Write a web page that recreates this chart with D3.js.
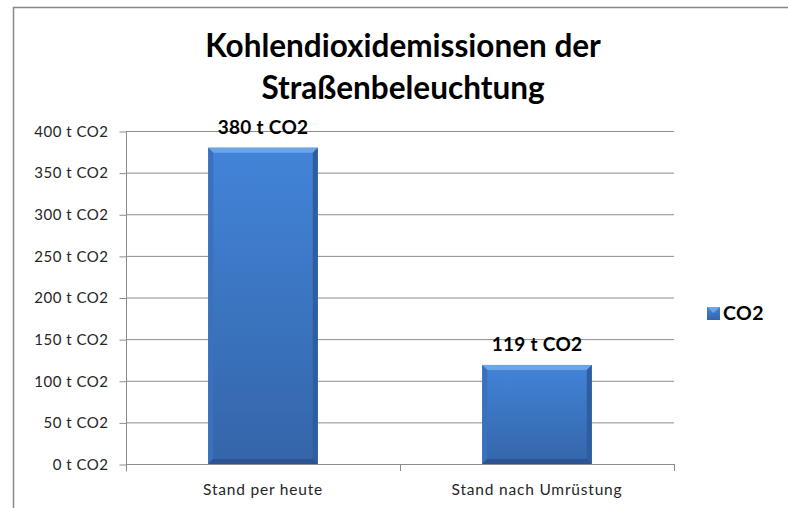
<!DOCTYPE html>
<html>
<head>
<meta charset="utf-8">
<script src="https://cdn.jsdelivr.net/npm/d3@7"></script>
<style>
  body { margin: 0; background: #fff; }
  svg { display: block; font-family: Lato, "Open Sans", sans-serif; }
</style>
</head>
<body>
<div id="chart"></div>
<script>
const categories = ["Stand per heute", "Stand nach Umrüstung"];
const values = [380, 119];
const yTicks = [0, 50, 100, 150, 200, 250, 300, 350, 400];
const seriesName = "CO2";
const titleLines = ["Kohlendioxidemissionen der", "Straßenbeleuchtung"];

const fullwidth = 788;
const fullheight = 508;
const plotLeft = 126, plotRight = 674, plotTop = 131, plotBottom = 464;

const svg = d3.select("#chart").append("svg")
  .attr("width", fullwidth)
  .attr("height", fullheight);

// chart frame
svg.append("rect")
  .attr("x", 13.5).attr("y", 7.5)
  .attr("width", 800).attr("height", 520)
  .attr("fill", "#fff")
  .attr("stroke", "#888")
  .attr("stroke-width", 1.5);

var defs = svg.append("defs");
var grad = defs.append("linearGradient")
  .attr("id", "barGrad")
  .attr("x1", "0%").attr("x2", "0%").attr("y1", "0%").attr("y2", "100%");
grad.append("stop").attr("offset", "0%").attr("stop-color", "#4284d8");
grad.append("stop").attr("offset", "100%").attr("stop-color", "#3465a9");

var y = d3.scaleLinear().domain([0, 400]).range([plotBottom, plotTop]);
var x = d3.scaleBand().domain(categories).range([plotLeft, plotRight])
  .paddingInner(0.6).paddingOuter(0.3);

// gridlines
svg.append("g")
  .selectAll("line")
  .data(yTicks.filter(d => d > 0))
  .enter().append("line")
  .attr("x1", plotLeft).attr("x2", plotRight)
  .attr("y1", d => y(d) + 0.5).attr("y2", d => y(d) + 0.5)
  .attr("stroke", "#8c8c8c").attr("stroke-width", 1);

// y axis
var yAxis = d3.axisLeft(y).tickValues(yTicks).tickSize(7).tickPadding(11)
  .tickFormat(d => d + " t CO2");
var gy = svg.append("g").attr("transform", "translate(" + (plotLeft + 0.5) + ",0.5)").call(yAxis);
gy.select(".domain").attr("stroke", "#8c8c8c").attr("d", "M0," + plotTop + "V" + (plotBottom + 7));
gy.selectAll(".tick line").attr("stroke", "#8c8c8c");
gy.selectAll(".tick text").attr("fill", "#262626").style("font-size", "15px")
  .style("letter-spacing", "0.5px")
  .style("font-family", "Lato, sans-serif");

// x axis
var gx = svg.append("g");
gx.append("line")
  .attr("x1", plotLeft).attr("x2", plotRight)
  .attr("y1", plotBottom + 0.5).attr("y2", plotBottom + 0.5)
  .attr("stroke", "#8c8c8c");
var bounds = [x.range()[0], (x(categories[0]) + x.bandwidth() / 2 + x(categories[1]) + x.bandwidth() / 2) / 2, x.range()[1]];
gx.selectAll("line.tk").data(bounds.slice(1)).enter().append("line")
  .attr("class", "tk")
  .attr("x1", d => Math.round(d) + 0.5).attr("x2", d => Math.round(d) + 0.5)
  .attr("y1", plotBottom).attr("y2", plotBottom + 7)
  .attr("stroke", "#8c8c8c");
gx.selectAll("text").data(categories).enter().append("text")
  .attr("x", d => x(d) + x.bandwidth() / 2)
  .attr("y", 495)
  .attr("text-anchor", "middle")
  .attr("fill", "#262626")
  .style("font-size", "15.5px")
  .style("letter-spacing", "0.8px")
  .text(d => d);

// bars with bevel
var bw = x.bandwidth();
var bev = 5;
var bars = svg.append("g").selectAll("g").data(categories).enter().append("g");
bars.append("rect")
  .attr("x", d => x(d)).attr("y", (d, i) => y(values[i]))
  .attr("width", bw).attr("height", (d, i) => plotBottom - y(values[i]))
  .attr("fill", "url(#barGrad)");
// top bevel
bars.append("path")
  .attr("d", (d, i) => {
    var x0 = x(d), x1 = x(d) + bw, t = y(values[i]);
    return "M" + x0 + "," + t + "L" + x1 + "," + t + "L" + (x1 - bev) + "," + (t + bev) + "L" + (x0 + bev) + "," + (t + bev) + "Z";
  })
  .attr("fill", "#6ea4e8");
// left bevel
bars.append("path")
  .attr("d", (d, i) => {
    var x0 = x(d), t = y(values[i]);
    return "M" + x0 + "," + t + "L" + (x0 + bev) + "," + (t + bev) + "L" + (x0 + bev) + "," + (plotBottom - bev) + "L" + x0 + "," + plotBottom + "Z";
  })
  .attr("fill", "#3a70bd");
// right bevel
bars.append("path")
  .attr("d", (d, i) => {
    var x1 = x(d) + bw, t = y(values[i]);
    return "M" + x1 + "," + t + "L" + (x1 - bev) + "," + (t + bev) + "L" + (x1 - bev) + "," + (plotBottom - bev) + "L" + x1 + "," + plotBottom + "Z";
  })
  .attr("fill", "#2f5e9e");
// bottom bevel
bars.append("path")
  .attr("d", (d, i) => {
    var x0 = x(d), x1 = x(d) + bw;
    return "M" + x0 + "," + plotBottom + "L" + (x0 + bev) + "," + (plotBottom - bev) + "L" + (x1 - bev) + "," + (plotBottom - bev) + "L" + x1 + "," + plotBottom + "Z";
  })
  .attr("fill", "#2b5490");

// data labels
svg.append("g").selectAll("text").data(categories).enter().append("text")
  .attr("x", d => x(d) + bw / 2)
  .attr("y", (d, i) => y(values[i]) - 14)
  .attr("text-anchor", "middle")
  .attr("fill", "#000")
  .style("font-size", "19px")
  .style("letter-spacing", "0.3px")
  .style("font-weight", "bold")
  .text((d, i) => values[i] + " t CO2");

// title
svg.append("g").selectAll("text").data(titleLines).enter().append("text")
  .attr("x", 403)
  .attr("y", (d, i) => 57 + i * 42)
  .attr("text-anchor", "middle")
  .attr("fill", "#000")
  .style("font-size", "31.5px")
  .style("font-weight", "bold")
  .text(d => d);

// legend
var legend = svg.append("g").attr("transform", "translate(707,307)");
legend.append("rect").attr("width", 13).attr("height", 13).attr("fill", "url(#barGrad)");
legend.append("path").attr("d", "M0,0L13,0L6.5,6Z").attr("fill", "#6ea4e8");
legend.append("text").attr("x", 16).attr("y", 13)
  .style("font-size", "19.5px").style("font-weight", "bold")
  .style("letter-spacing", "0.4px")
  .text(seriesName);
</script>
</body>
</html>
